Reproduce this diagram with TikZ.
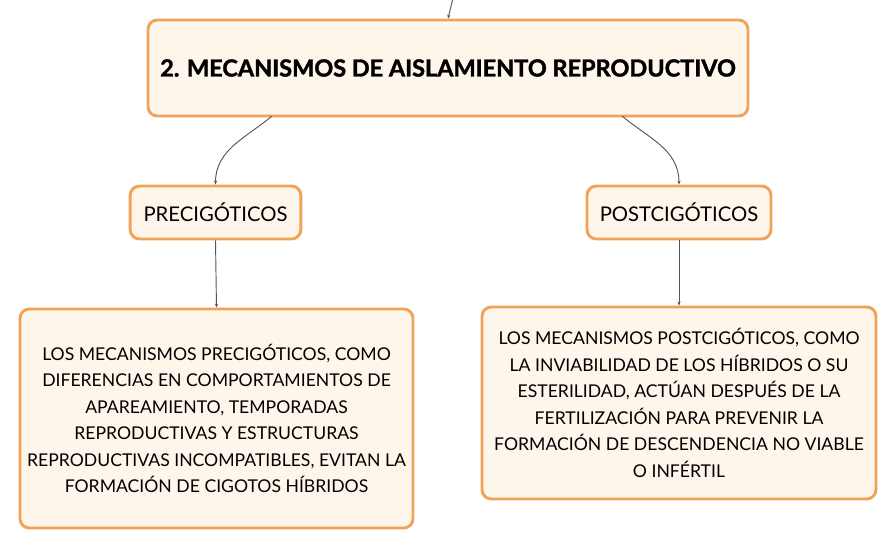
\documentclass[tikz,border=0pt]{standalone}
\usepackage{fontspec}
\setmainfont{Lato}
\newfontfamily\titlefont{Lato}[BoldFeatures={FakeBold=1.6}]
\usetikzlibrary{arrows.meta,positioning}
\definecolor{boxline}{HTML}{F2A35A}
\definecolor{boxfill}{HTML}{FEF5EB}
\definecolor{linkgray}{HTML}{555555}

\begin{document}
\begin{tikzpicture}[x=0.75pt,y=-0.75pt,
	box/.style={draw=boxline,fill=boxfill,line width=2.2pt,rounded corners=7pt,align=center,inner sep=0pt},
	link/.style={draw=linkgray,line width=0.7pt,-{Stealth[length=3pt,width=2.5pt]}}]
	\useasboundingbox (0,0) rectangle (896,549);
	\node[box,minimum width=450pt,minimum height=72pt,font=\fontsize{17.6}{21}\titlefont\bfseries] (main) at (448,68) {2. MECANISMOS DE AISLAMIENTO REPRODUCTIVO};
	\node[box,minimum width=128pt,minimum height=39.75pt,font=\fontsize{15.2}{18}\selectfont] (pre) at (215.5,212.5) {PRECIGÓTICOS};
	\node[box,minimum width=138pt,minimum height=39.75pt,font=\fontsize{15.2}{18}\selectfont] (post) at (679,212.5) {POSTCIGÓTICOS};
	\node[box,minimum width=294.75pt,minimum height=164.25pt,font=\fontsize{13.2}{19.9}\selectfont] (predesc) at (216.5,418.5)
		{LOS MECANISMOS PRECIGÓTICOS, COMO\\DIFERENCIAS EN COMPORTAMIENTOS DE\\APAREAMIENTO, TEMPORADAS\\REPRODUCTIVAS Y ESTRUCTURAS\\REPRODUCTIVAS INCOMPATIBLES, EVITAN LA\\FORMACIÓN DE CIGOTOS HÍBRIDOS};
	\node[box,minimum width=295.5pt,minimum height=144pt,font=\fontsize{13.2}{19.9}\selectfont] (postdesc) at (679,403)
		{LOS MECANISMOS POSTCIGÓTICOS, COMO\\LA INVIABILIDAD DE LOS HÍBRIDOS O SU\\ESTERILIDAD, ACTÚAN DESPUÉS DE LA\\FERTILIZACIÓN PARA PREVENIR LA\\FORMACIÓN DE DESCENDENCIA NO VIABLE\\O INFÉRTIL};
	\coordinate (up) at (453,-2);
	\coordinate (mainleft) at (272,116);
	\coordinate (mainright) at (622,116);
	\draw[link] (up) -- (main.north);
	\draw[link] (mainleft) to[out=-140,in=90] (pre.north);
	\draw[link] (mainright) to[out=-40,in=90] (post.north);
	\draw[link] (pre.south) -- (predesc.north);
	\draw[link] (post.south) -- (postdesc.north);
\end{tikzpicture}
\end{document}
